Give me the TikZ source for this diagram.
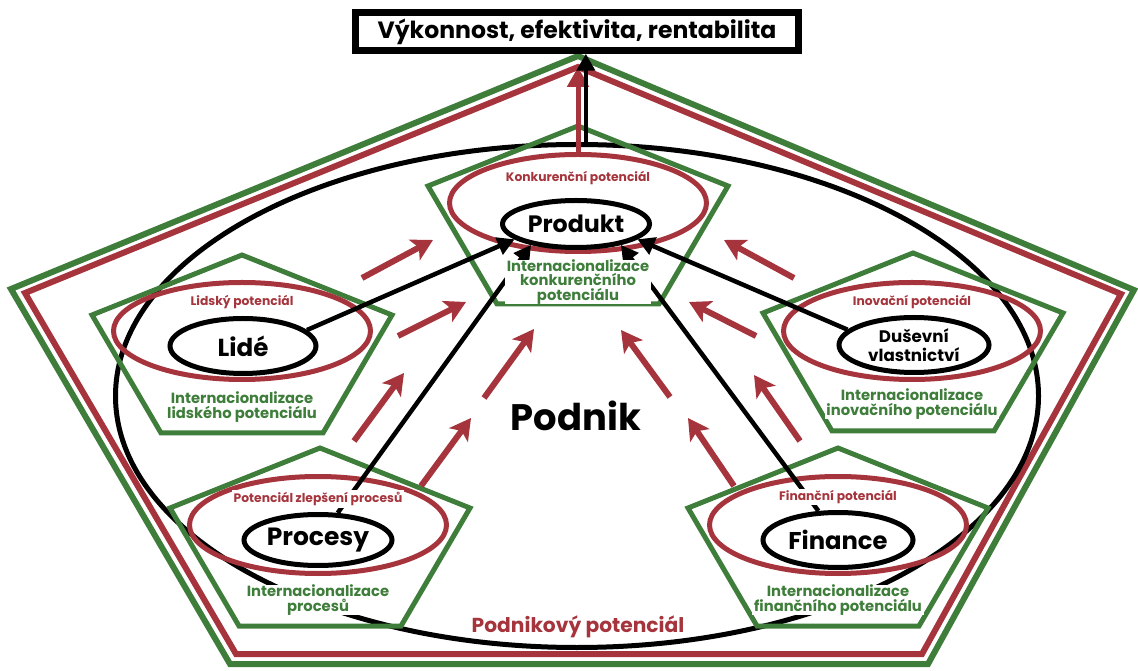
\documentclass[tikz,border=0pt]{standalone}
\usepackage{fontspec}
\setmainfont{Poppins}
\usepackage{tikz}
\usetikzlibrary{arrows.meta, calc, shapes.geometric}

\definecolor{grn}{RGB}{62,125,58}
\definecolor{rd}{RGB}{166,52,60}

\newcommand{\pxu}{0.02cm}
\newcommand{\pent}[2]{\draw[grnline] (#1,#2) -- (#1+150,#2+60) -- (#1+81,#2+178) -- (#1-81,#2+178) -- (#1-150,#2+60) -- cycle;}

\tikzset{
    grnline/.style={draw=grn, line width=5*\pxu, line join=miter},
    redline/.style={draw=rd, line width=5*\pxu, line join=miter},
    pot/.style={ellipse, draw=rd, line width=5*\pxu, inner sep=0pt, minimum width=257*\pxu, minimum height=97*\pxu},
    res/.style={ellipse, draw=black, line width=5*\pxu, inner sep=0pt, align=center},
    potlbl/.style={text=rd, fill=white, inner sep=1pt, font=\bfseries\fontsize{7}{8}\selectfont},
    intlbl/.style={text=grn, fill=white, inner xsep=1pt, inner ysep=0pt, align=center, font=\bfseries\fontsize{8.4}{8.2}\selectfont},
    blkarrow/.style={-{Triangle[length=0.34cm, width=0.36cm]}, line width=4.5*\pxu},
    redarrow/.style={-{Stealth[length=0.42cm, width=0.46cm, inset=0.1cm]}, draw=rd, line width=6*\pxu}
}

\begin{document}
\begin{tikzpicture}[x=0.02cm, y=-0.02cm]
            \useasboundingbox (0,0) rectangle (1138,671);

            \coordinate (gtop) at (578,56);
            \coordinate (rtop) at (578,67);
            \draw[grnline, line width=6*\pxu] (gtop) -- (1134,290) -- (928,664) -- (230,664) -- (11,289) -- cycle;
            \draw[redline, line width=6*\pxu] (rtop) -- (1121,294) -- (922,654) -- (236,654) -- (25,293) -- cycle;

            \node[ellipse, draw, line width=5*\pxu, minimum width=923*\pxu, minimum height=503*\pxu] (podE) at (577,396) {};

            \pent{578}{126}
            \pent{242}{255}
            \pent{913}{253}
            \pent{320}{448}
            \pent{838}{448}

            \node[pot] (kpot) at (578,203) {};
            \node[pot] (lpot) at (242,331) {};
            \node[pot] (ipot) at (912,331) {};
            \node[pot] (ppot) at (318,525) {};
            \node[pot] (fpot) at (838,525) {};

            \node[res, minimum width=147*\pxu, minimum height=47*\pxu, font=\bfseries\fontsize{13.5}{15}\selectfont] (produkt) at (576,224) {Produkt};
            \node[res, minimum width=146*\pxu, minimum height=55*\pxu, font=\bfseries\fontsize{14}{16}\selectfont] (lide) at (243,346) {Lidé};
            \node[res, minimum width=150*\pxu, minimum height=55*\pxu, font=\bfseries\fontsize{9.5}{11.2}\selectfont] (dusevni) at (914,345) {Duševní\\vlastnictví};
            \node[res, minimum width=148*\pxu, minimum height=51*\pxu, font=\bfseries\fontsize{14.2}{16}\selectfont] (procesy) at (318,540) {Procesy};
            \node[res, minimum width=150*\pxu, minimum height=55*\pxu, font=\bfseries\fontsize{13.8}{15}\selectfont] (finance) at (838,540) {Finance};

            \draw[blkarrow] (lide.14) -- (produkt.194);
            \draw[blkarrow] (dusevni.167) -- (produkt.346);
            \draw[blkarrow] (procesy.54) -- (produkt.205);
            \draw[blkarrow] (finance.124) -- (produkt.335);

            \foreach \xa/\ya/\xb/\yb in {362/278/433/240, 398/336/466/302, 354/441/404/373, 421/486/471/418, 484/398/534/329,
                                         794/278/724/240, 756/336/689/302, 800/441/754/375, 734/486/688/418, 670/397/621/330}
                \draw[redarrow] (\xa,\ya) -- (\xb,\yb);

            \node[potlbl] (kl) at (578,178) {Konkurenční potenciál};
            \node[potlbl] (ll) at (242,302) {Lidský potenciál};
            \node[potlbl] (il) at (912,302) {Inovační potenciál};
            \node[potlbl] (pl) at (318,499) {Potenciál zlepšení procesů};
            \node[potlbl] (fl) at (838,497) {Finanční potenciál};

            \node[intlbl] (ki) at (578,282) {Internacionalizace\\konkurenčního\\potenciálu};
            \node[intlbl] (li) at (242,407) {Internacionalizace\\lidského potenciálu};
            \node[intlbl] (ii) at (912,404) {Internacionalizace\\inovačního potenciálu};
            \node[intlbl] (pi) at (318,600) {Internacionalizace\\procesů};
            \node[intlbl] (fi) at (838,600) {Internacionalizace\\finančního potenciálu};

            \node[draw, fill=white, line width=7*\pxu, minimum width=443*\pxu, minimum height=36*\pxu, font=\bfseries\fontsize{13.4}{15}\selectfont] (title) at (577,31.5) {Výkonnost, efektivita, rentabilita};

            \draw[-{Triangle[length=0.4cm, width=0.42cm]}, draw=rd, line width=5*\pxu] (kpot.north) -- (rtop);
            \draw[blkarrow] (podE.88) -- (podE.88 |- title.south);

            \node[font=\bfseries\fontsize{21}{24}\selectfont] (podnik) at (576,416) {Podnik};
            \node[text=rd, font=\bfseries\fontsize{11.5}{13}\selectfont] (podpot) at (578,627) {Podnikový potenciál};
\end{tikzpicture}
\end{document}
